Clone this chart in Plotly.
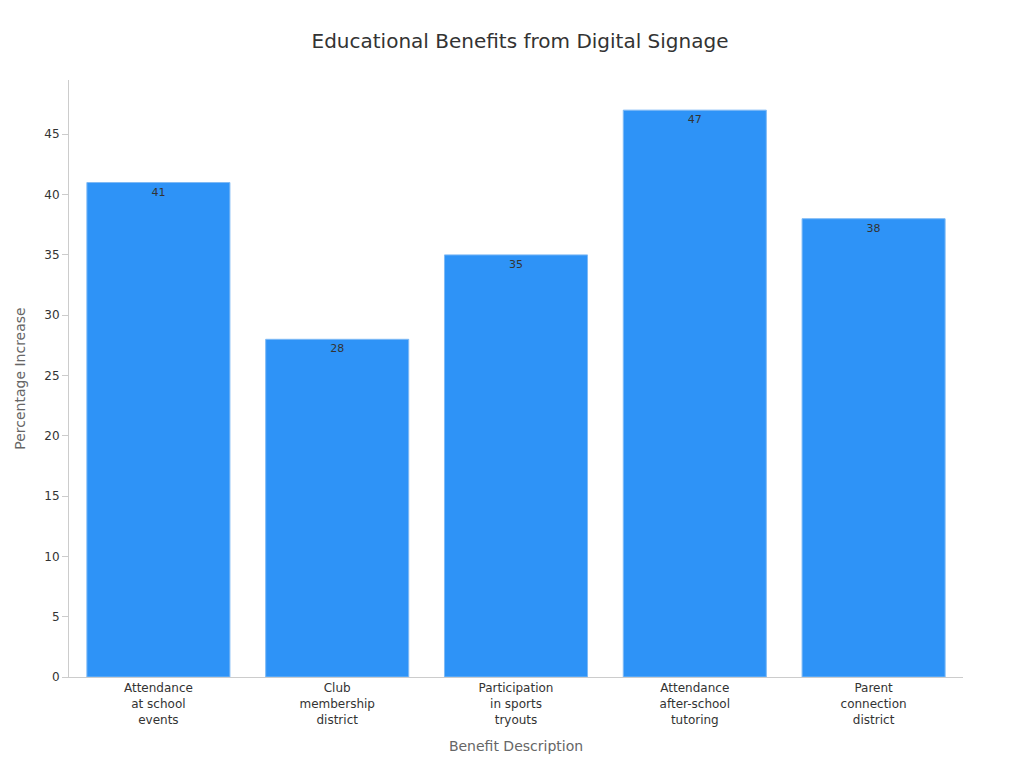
import plotly.graph_objects as go

categories = ["Attendance<br>at school<br>events", "Club<br>membership<br>district",
              "Participation<br>in sports<br>tryouts", "Attendance<br>after-school<br>tutoring",
              "Parent<br>connection<br>district"]
values = [41, 28, 35, 47, 38]

fig = go.Figure(go.Bar(
    x=categories, y=values, text=values, textposition="inside",
    insidetextanchor="end", textfont=dict(color="#333333", size=11),
    marker=dict(color="#2E93F7", line=dict(color="#7fbaf5", width=1)),
))

fig.update_layout(
    width=1024, height=768, plot_bgcolor="white", paper_bgcolor="white",
    font=dict(family="DejaVu Sans", color="#333333", size=12),
    title=dict(text="Educational Benefits from Digital Signage", x=0.5, y=0.957,
               xanchor="center", yanchor="middle", font=dict(size=20, color="#333333")),
    margin=dict(l=53, r=69, t=72, b=99),
    bargap=0.2, showlegend=False,
)
fig.update_xaxes(title=dict(text="Benefit Description", font=dict(color="#666666", size=14)),
                 showline=True, linecolor="#cccccc", tickfont=dict(size=12))
fig.update_yaxes(title=dict(text="Percentage Increase", font=dict(color="#666666", size=14)),
                 range=[0, 49.5], dtick=5, showgrid=False, showline=True,
                 linecolor="#cccccc", ticks="outside", tickcolor="#cccccc", ticklen=6,
                 zeroline=False)

fig.write_html("out.html")
